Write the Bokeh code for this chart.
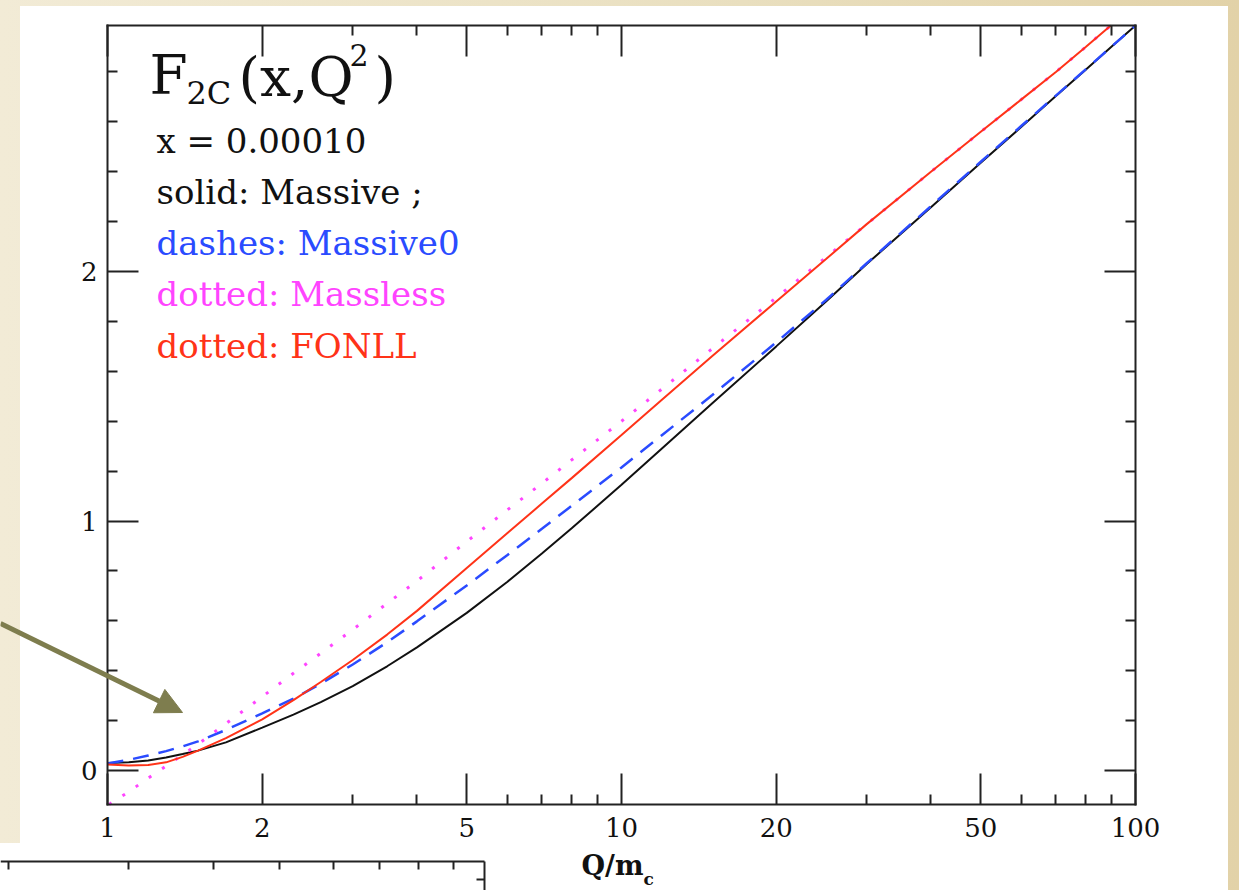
import math

from bokeh.plotting import figure
from bokeh.models import (LogAxis, LinearAxis, FixedTicker, Label, Arrow, NormalHead,
                          ColumnDataSource, Range1d, PrintfTickFormatter)
from bokeh.embed import file_html
from bokeh.resources import INLINE

# Q/m_c sampling points and F2c(x, Q^2) at x = 1e-4 for the four schemes
q_over_mc = [1, 1.1, 1.2, 1.3, 1.4, 1.5, 1.7, 2, 2.3, 2.6, 3, 3.5, 4, 5, 6, 7, 8,
             10, 12, 15, 20, 25, 30, 40, 50, 60, 70, 80, 90, 100]
f2c_massive = [0.03, 0.033, 0.04, 0.052, 0.066, 0.08, 0.113, 0.172, 0.224, 0.274,
               0.338, 0.418, 0.494, 0.632, 0.757, 0.87, 0.971, 1.145, 1.292, 1.471,
               1.70, 1.88, 2.03, 2.258, 2.436, 2.58, 2.703, 2.809, 2.903, 2.986]
f2c_massive0 = [0.028, 0.043, 0.06, 0.078, 0.097, 0.117, 0.163, 0.229, 0.288, 0.348,
                0.425, 0.514, 0.598, 0.742, 0.864, 0.969, 1.061, 1.215, 1.345, 1.504,
                1.716, 1.886, 2.033, 2.262, 2.44, 2.584, 2.705, 2.81, 2.903, 2.986]
f2c_massless = [-0.14, -0.085, -0.03, 0.018, 0.063, 0.106, 0.188, 0.296, 0.39, 0.47,
                0.565, 0.67, 0.76, 0.918, 1.045, 1.151, 1.245, 1.40, 1.53, 1.69,
                1.895, 2.057, 2.19, 2.40, 2.56, 2.69, 2.80, 2.90, 2.99, 3.07]
f2c_fonll = [0.024, 0.02, 0.022, 0.033, 0.055, 0.08, 0.13, 0.205, 0.282, 0.355,
             0.443, 0.545, 0.64, 0.812, 0.952, 1.07, 1.172, 1.345, 1.487, 1.66,
             1.88, 2.05, 2.19, 2.40, 2.56, 2.69, 2.80, 2.90, 2.99, 3.07]

x_major = [1, 2, 5, 10, 20, 50, 100]
x_minor = [3, 4, 6, 7, 8, 9, 30, 40, 60, 70, 80, 90]
y_major = [0, 1, 2]
y_minor = [0.2, 0.4, 0.6, 0.8, 1.2, 1.4, 1.6, 1.8, 2.2, 2.4, 2.6, 2.8]

legend_lines = ["x = 0.00010", "solid: Massive ;", "dashes: Massive0",
                "dotted: Massless", "dotted: FONLL"]
legend_colors = ["#111111", "#111111", "#2a4bff", "#ff44ff", "#ff3318"]

SERIF = "DejaVu Serif"
INK = "#222222"
OLIVE = "#7e7d4e"

W, H = 1239, 890
# plot box inside the canvas (pixels) and its data limits
BOX_L, BOX_R, BOX_T, BOX_B = 107, 1135, 25, 804
X_LO, X_HI = 1.0, 100.0
Y_LO, Y_HI = -0.136, 2.986

# extend the ranges so that the data box lands on the plot box
dec_px = (BOX_R - BOX_L) / (math.log10(X_HI) - math.log10(X_LO))
x_start = 10 ** (math.log10(X_LO) - BOX_L / dec_px)
x_end = 10 ** (math.log10(X_HI) + (W - BOX_R) / dec_px)
unit_px = (BOX_B - BOX_T) / (Y_HI - Y_LO)
y_start = Y_LO - (H - BOX_B) / unit_px
y_end = Y_HI + BOX_T / unit_px


def clip_to_band(xs, ys, lo, hi):
    """Cut a curve at the box's lower and upper edges (log-x interpolation)."""
    out_x, out_y = [], []
    for i, (x, y) in enumerate(zip(xs, ys)):
        if i > 0:
            x0, y0 = xs[i - 1], ys[i - 1]
            for bound in (lo, hi):
                if (y0 - bound) * (y - bound) < 0:
                    t = (bound - y0) / (y - y0)
                    lx = math.log10(x0) + t * (math.log10(x) - math.log10(x0))
                    out_x.append(10 ** lx)
                    out_y.append(bound)
        if lo <= y <= hi:
            out_x.append(x)
            out_y.append(y)
    return out_x, out_y


page_bg = ("linear-gradient(#ffffff,#ffffff) 20px 6px / 1208px 884px no-repeat, "
           "linear-gradient(#ffffff,#ffffff) 0px 843px / 520px 47px no-repeat, "
           "linear-gradient(to right, #f2ebd6, #e9dfbf 60%, #e2d2a8)")

p = figure(width=W, height=H, x_axis_type="log",
           x_range=Range1d(x_start, x_end), y_range=Range1d(y_start, y_end),
           output_backend="svg", toolbar_location=None, min_border=0,
           background_fill_color=None, border_fill_color=None,
           outline_line_color=None, styles={"background": page_bg})
p.grid.visible = False


def style_axis(ax, major, minor, loc, bounds, labels):
    ax.fixed_location = loc
    ax.bounds = bounds
    ax.ticker = FixedTicker(ticks=major, minor_ticks=minor)
    ax.formatter = PrintfTickFormatter(format="%d")
    ax.axis_line_color = INK
    ax.axis_line_width = 2
    ax.axis_line_cap = "square"
    ax.major_tick_line_color = INK
    ax.minor_tick_line_color = INK
    ax.major_tick_line_width = 2
    ax.minor_tick_line_width = 2
    ax.major_tick_in = 31
    ax.major_tick_out = 0
    ax.minor_tick_in = 10
    ax.minor_tick_out = 0
    if labels:
        ax.major_label_text_font = SERIF
        ax.major_label_text_font_size = "26px"
        ax.major_label_text_color = "#111111"
    else:
        ax.major_label_text_color = None


bottom = p.below[0]
style_axis(bottom, x_major, x_minor, Y_LO, (X_LO, X_HI), True)
bottom.major_label_standoff = 13
left = p.left[0]
style_axis(left, y_major, y_minor, X_LO, (Y_LO, Y_HI), True)
left.major_label_standoff = 10

top = LogAxis()
style_axis(top, x_major, x_minor, Y_HI, (X_LO, X_HI), False)
p.add_layout(top, "above")
right = LinearAxis()
style_axis(right, y_major, y_minor, X_HI, (Y_LO, Y_HI), False)
p.add_layout(right, "right")

# the four curves, cut at the box edges
for ys, color, width, dash in [(f2c_massive, "#111111", 2, "solid"),
                               (f2c_massive0, "#2a4bff", 2.5, "16 10"),
                               (f2c_massless, "#ff44ff", 3, "3 13"),
                               (f2c_fonll, "#ff3318", 2, "solid")]:
    cx, cy = clip_to_band(q_over_mc, ys, Y_LO, Y_HI)
    p.line(cx, cy, line_color=color, line_width=width, line_dash=dash)


def canvas_text(txt, px, py, size, color="#111111", style="normal"):
    p.add_layout(Label(x=px, y=py, x_units="canvas", y_units="canvas", text=txt,
                       text_font=SERIF, text_font_size=size, text_color=color,
                       text_font_style=style, text_baseline="middle"))


# title F_2C(x,Q^2)
canvas_text("F", 149, 74, "55px")
canvas_text("2C", 186, 92, "32px")
canvas_text("(x,Q", 238, 76, "55px")
canvas_text("2", 349, 54, "30px")
canvas_text(")", 374, 76, "55px")

for i, (txt, col) in enumerate(zip(legend_lines, legend_colors)):
    canvas_text(txt, 156, 140 + 51.3 * i, "34px", col)

# axis title Q/m_c
canvas_text("Q/m", 581, 865, "27px", style="bold")
canvas_text("c", 643, 878, "17px", style="bold")

# pointer arrow
p.add_layout(Arrow(end=NormalHead(size=26, fill_color=OLIVE, line_color=OLIVE),
                   x_start=0, y_start=623, x_end=182, y_end=712,
                   start_units="canvas", end_units="canvas",
                   line_color=OLIVE, line_width=5))

# frame edge of the neighbouring panel below, with its inward ticks
edge = ColumnDataSource(dict(
    x0=[0, 484, 8, 128, 213, 279, 333, 379, 418, 453, 484],
    y0=[861, 861, 861, 861, 861, 861, 861, 861, 861, 861, 879],
    x1=[484, 484, 8, 128, 213, 279, 333, 379, 418, 453, 476],
    y1=[861, 890, 869, 869, 869, 869, 869, 869, 869, 869, 879],
))
p.add_layout(Arrow(end=None, source=edge, x_start="x0", y_start="y0",
                   x_end="x1", y_end="y1", start_units="canvas", end_units="canvas",
                   line_color=INK, line_width=2))

open("out.html", "w").write(file_html(p, INLINE))
